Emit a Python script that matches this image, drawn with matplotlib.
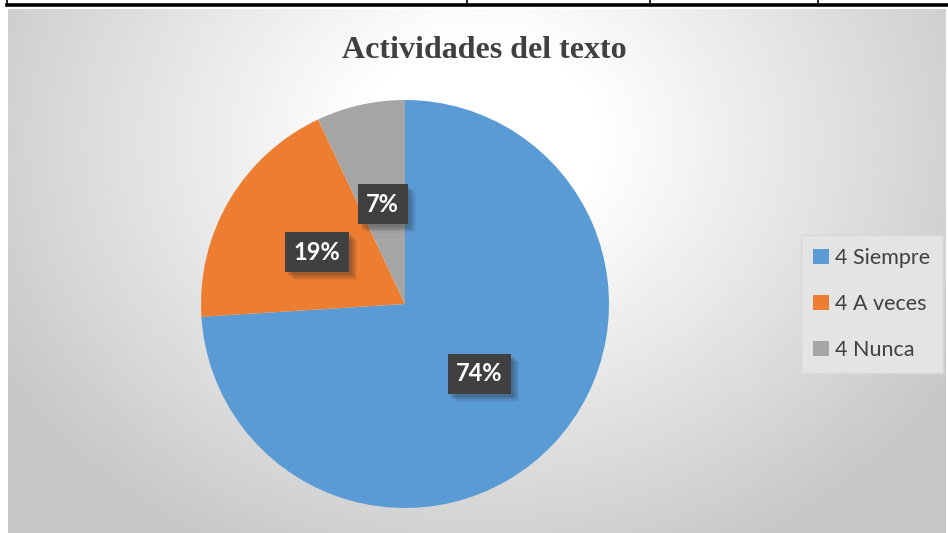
import numpy as np
import matplotlib
matplotlib.use("Agg")
import matplotlib.pyplot as plt
from matplotlib.lines import Line2D
import matplotlib.patheffects as pe

# ---- data ----
categories = ["4 Siempre", "4 A veces", "4 Nunca"]
values = [74, 19, 7]
colors = ["#5B9BD5", "#ED7D31", "#A5A5A5"]
title = "Actividades del texto"

W, H = 948, 533
fig = plt.figure(figsize=(W / 100, H / 100), dpi=100)
fig.patch.set_facecolor("white")

# ---- background gradient of chart area ----
x0, x1, y0, y1 = 8, 946, 9, 533
bg = fig.add_axes([x0 / W, 1 - y1 / H, (x1 - x0) / W, (y1 - y0) / H], zorder=-5)
nx, ny = 400, 230
xx, yy = np.meshgrid(np.linspace(x0, x1, nx), np.linspace(y0, y1, ny))
cx, cy = 480, 140
d = np.sqrt(((xx - cx) / 560.0) ** 2 + ((yy - cy) / 470.0) ** 2)
t = np.clip((d - 0.22) / 0.78, 0, 1)
g = 1.0 - 0.22 * t
img = np.dstack([g, g, g])
bg.imshow(img, aspect="auto", extent=[0, 1, 0, 1], origin="upper")
bg.set_axis_off()

# ---- table border lines at the top ----
fig.add_artist(Line2D([7 / W, 1], [1 - 5 / H, 1 - 5 / H], color="black", lw=2.6))
for xv in [7, 467, 650, 818]:
    fig.add_artist(Line2D([xv / W, xv / W], [1, 1 - 5 / H], color="black", lw=1.2))

# ---- pie ----
cxp, cyp, r = 405, 304, 204
ax = fig.add_axes([(cxp - r) / W, 1 - (cyp + r) / H, 2 * r / W, 2 * r / H])
wedges, texts, autotexts = ax.pie(
    values, colors=colors, startangle=90, counterclock=False,
    autopct="%1.0f%%", pctdistance=0.5, radius=1.0,
    wedgeprops=dict(linewidth=0),
    textprops=dict(color="white", fontsize=17, fontweight="bold", family="Lato"),
)
ax.set_xlim(-1, 1)
ax.set_ylim(-1, 1)
ax.set_aspect("equal")
shadow = [pe.SimplePatchShadow(offset=(o, -o), alpha=a, shadow_rgbFace="#222222")
          for o, a in [(6, 0.05), (5, 0.07), (4, 0.09), (3, 0.10), (2, 0.10)]]
for at in autotexts:
    at.set_bbox(dict(boxstyle="square,pad=0.36", facecolor="#404040", edgecolor="none"))
    at.get_bbox_patch().set_path_effects(shadow + [pe.Normal()])

# ---- title ----
fig.text(484 / W, 1 - 50 / H, title, ha="center", va="center",
         fontsize=23, fontweight="bold", family="Liberation Serif", color="#404040")

# ---- legend ----
leg = fig.legend(wedges, categories, loc="center right",
                 bbox_to_anchor=(943 / W, 1 - 304 / H),
                 prop=dict(family="Lato", size=15.5),
                 handlelength=0.7, handleheight=0.7, handletextpad=0.3,
                 labelspacing=1.2, borderpad=0.6, borderaxespad=0,
                 frameon=True, fancybox=False)
leg.get_frame().set_facecolor("#e4e4e4")
leg.get_frame().set_edgecolor("#d8d8d8")
leg.get_frame().set_alpha(1)
for txt in leg.get_texts():
    txt.set_color("#404040")

fig.savefig("out.png", dpi=100, facecolor="white")
